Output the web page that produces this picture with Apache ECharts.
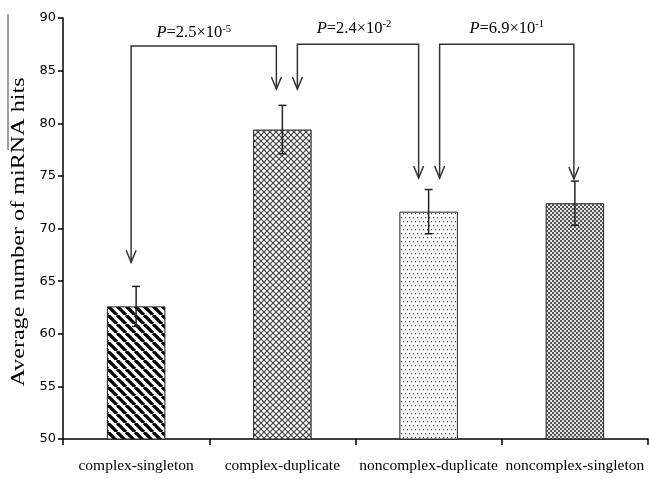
<!DOCTYPE html>
<html><head><meta charset="utf-8">
<script src="https://cdn.jsdelivr.net/npm/echarts@6/dist/echarts.min.js"></script>
<style>html,body{margin:0;padding:0;background:#fff}#c{width:649px;height:479px}</style>
</head><body><div id="c"></div>
<script>
// ---- data ----
const categories = ['complex-singleton', 'complex-duplicate', 'noncomplex-duplicate', 'noncomplex-singleton'];
const meanHits = [62.6, 79.4, 71.6, 72.4];
const errorHits = [1.9, 2.3, 2.1, 2.1];
const yMin = 50, yMax = 90, yStep = 5;
const yTitle = 'Average number of miRNA hits';
const pairFrom = [0, 1, 2];
const pairTo = [1, 2, 3];
const pMantissa = ['2.5', '2.4', '6.9'];
const pExponent = ['-5', '-2', '-1'];
const bracketLevel = [87.35, 87.5, 87.5];
const arrowTipFrom = [66.8, 83.25, 74.8];
const arrowTipTo = [83.25, 74.8, 74.7];

// ---- styles (pixel offsets) ----
const arrowDx = [[-5, -6], [15, -10], [11, -1]];
const labelOffset = [[-10, -13], [-4, -16], [0, -16]];

function mk(w, h, draw) {
  const c = document.createElement('canvas'); c.width = w; c.height = h;
  const g = c.getContext('2d'); g.fillStyle = '#fff'; g.fillRect(0, 0, w, h); draw(g); return c;
}
const pStripe = mk(9, 9, g => {
  g.strokeStyle = '#000'; g.lineWidth = 3.3;
  for (const x0 of [-9, 0, 9]) { g.beginPath(); g.moveTo(x0, 0); g.lineTo(x0 + 9, 9); g.stroke(); }
});
const pCross = mk(6, 6, g => {
  g.strokeStyle = '#444'; g.lineWidth = 1.2;
  for (const x0 of [-6, 0, 6]) {
    g.beginPath(); g.moveTo(x0, 0); g.lineTo(x0 + 6, 6); g.stroke();
    g.beginPath(); g.moveTo(x0 + 6, 0); g.lineTo(x0, 6); g.stroke();
  }
});
const pDots = mk(8, 8, g => {
  g.fillStyle = '#555';
  [[1, 1], [5, 1], [3, 5], [7, 5]].forEach(p => g.fillRect(p[0], p[1], 1.3, 1.3));
});
const pCheck = mk(4, 4, g => {
  g.fillStyle = '#e2e2e2'; g.fillRect(0, 0, 4, 4);
  g.fillStyle = '#555'; g.fillRect(0, 0, 2, 2); g.fillRect(2, 2, 2, 2);
});
const patterns = [pStripe, pCross, pDots, pCheck];

const serif = '"Liberation Serif", "Times New Roman", serif';
const chart = echarts.init(document.getElementById('c'), null, { renderer: 'canvas' });

chart.setOption({
  animation: false,
  backgroundColor: '#fff',
  grid: { left: 63, right: 1, top: 18, bottom: 40 },
  xAxis: {
    type: 'category', data: categories,
    axisLine: { lineStyle: { color: '#000', width: 1.5 } },
    axisTick: { show: true, length: 6, lineStyle: { color: '#000', width: 1.5 } },
    axisLabel: { color: '#000', fontFamily: serif, fontSize: 15.5, margin: 19, interval: 0 }
  },
  yAxis: {
    type: 'value', min: yMin, max: yMax, interval: yStep,
    splitLine: { show: false },
    axisLine: { show: true, lineStyle: { color: '#000', width: 1.5 } },
    axisTick: { show: true, length: 5, lineStyle: { color: '#000', width: 1.5 } },
    axisLabel: { color: '#000', fontFamily: '"DejaVu Sans", sans-serif', fontSize: 13, margin: 7 }
  },
  series: [
    {
      type: 'bar', barWidth: '40%',
      data: meanHits.map((v, i) => ({
        value: v,
        itemStyle: { color: { image: patterns[i], repeat: 'repeat' }, borderColor: '#222', borderWidth: 1 }
      }))
    },
    {
      type: 'custom', clip: false, z: 5,
      data: meanHits.map((v, i) => [i, v - errorHits[i], v + errorHits[i]]),
      renderItem: function (params, api) {
        const lo = api.coord([api.value(0), api.value(1)]);
        const hi = api.coord([api.value(0), api.value(2)]);
        const s = { stroke: '#222', lineWidth: 1.5 };
        return { type: 'group', children: [
          { type: 'line', shape: { x1: hi[0], y1: hi[1], x2: lo[0], y2: lo[1] }, style: s },
          { type: 'line', shape: { x1: hi[0] - 4, y1: hi[1], x2: hi[0] + 4, y2: hi[1] }, style: s },
          { type: 'line', shape: { x1: lo[0] - 4, y1: lo[1], x2: lo[0] + 4, y2: lo[1] }, style: s }
        ]};
      }
    },
    {
      type: 'custom', clip: false, z: 6,
      data: pairFrom.map((f, i) => [f, pairTo[i], bracketLevel[i], arrowTipFrom[i], arrowTipTo[i]]),
      renderItem: function (params, api) {
        const i = params.dataIndex;
        const a = api.coord([api.value(0), api.value(2)]);
        const b = api.coord([api.value(1), api.value(2)]);
        const ta = api.coord([api.value(0), api.value(3)]);
        const tb = api.coord([api.value(1), api.value(4)]);
        const xa = a[0] + arrowDx[i][0], xb = b[0] + arrowDx[i][1];
        const top = a[1];
        const s = { stroke: '#333', lineWidth: 1.5, fill: null };
        const head = (x, y) => ({ type: 'polyline', shape: { points: [[x - 5, y - 12], [x, y], [x + 5, y - 12]] }, style: s });
        return { type: 'group', children: [
          { type: 'polyline', shape: { points: [[xa, ta[1]], [xa, top], [xb, top], [xb, tb[1]]] }, style: s },
          head(xa, ta[1]), head(xb, tb[1]),
          { type: 'text', x: (xa + xb) / 2 + labelOffset[i][0], y: top + labelOffset[i][1],
            style: {
              text: '{it|P}{n|=' + pMantissa[i] + '×10}{sup|' + pExponent[i] + '}',
              align: 'center', verticalAlign: 'middle', fill: '#000',
              rich: {
                it: { fontFamily: serif, fontSize: 16.5, fontStyle: 'italic', fill: '#000' },
                n: { fontFamily: serif, fontSize: 16.5, fill: '#000' },
                sup: { fontFamily: serif, fontSize: 10.5, fill: '#000', padding: [0, 0, 8, 0] }
              }
            } }
        ]};
      }
    }
  ],
  graphic: [
    { type: 'line', shape: { x1: 8, y1: 14, x2: 8, y2: 150 }, style: { stroke: '#444', lineWidth: 1 } },
    { type: 'text', x: 19, y: 232, rotation: Math.PI / 2, scaleX: 1.34,
      style: { text: yTitle, font: '18px "Liberation Serif", serif', fill: '#000', align: 'center', verticalAlign: 'middle' } }
  ]
});
</script></body></html>
